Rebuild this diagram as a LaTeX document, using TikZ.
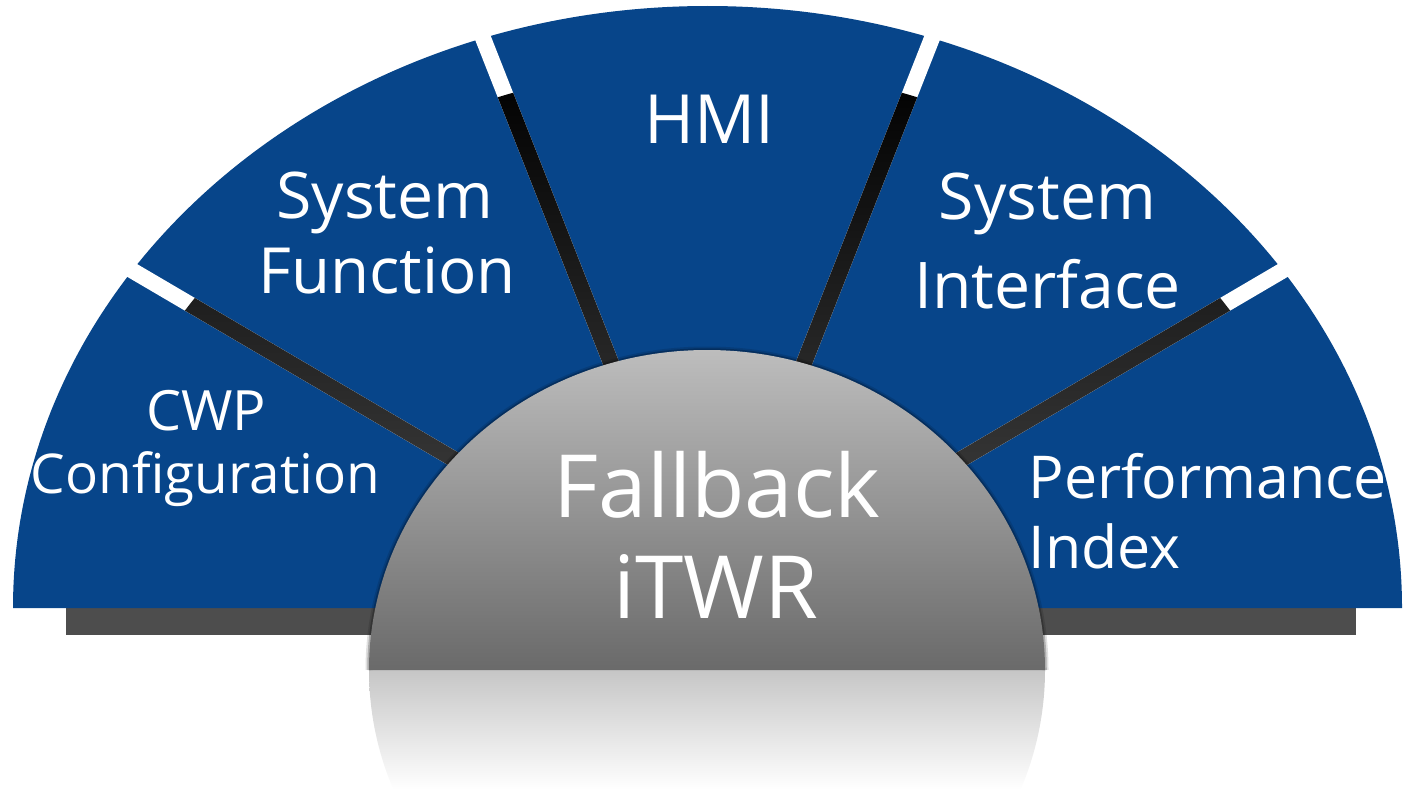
\documentclass[tikz,border=0pt]{standalone}
\usepackage{fontspec}
\setmainfont{Open Sans}
\usetikzlibrary{calc}
\definecolor{fanblue}{HTML}{07458A}
\definecolor{basebar}{HTML}{4D4D4D}
\definecolor{gapdark}{HTML}{474747}
\definecolor{domeTop}{HTML}{BDBDBD}
\definecolor{domeBot}{HTML}{6A6A6A}
\definecolor{reflTop}{HTML}{C6C6C6}
\begin{document}
\begin{tikzpicture}[x=0.01cm,y=0.01cm,
  lbl/.style={text=white, inner sep=0pt, anchor=base},
  lblw/.style={text=white, inner sep=0pt, anchor=base west}]
\useasboundingbox (0,0) rectangle (1409,790);
\coordinate (c) at (707.5,182);
% base bar
\fill[basebar] (66,155) rectangle (1356,182);
% fan
\fill[fanblue] (13,182) arc[start angle=180,end angle=0,x radius=694.5,y radius=602] -- cycle;
% gaps between the segments
\fill[white] \foreach \a in {30.4,68.5,111.5,149.6}{
  ($(c)+(\a:250)+(\a+90:8)$) -- ($(c)+(\a:720)+(\a+90:8)$) --
  ($(c)+(\a:720)+(\a-90:8)$) -- ($(c)+(\a:250)+(\a-90:8)$) -- cycle};
% dark inner part of the gaps
\begin{scope}
  \clip ($(c)+(-625,0)$) arc[start angle=180,end angle=0,x radius=625,y radius=542] -- cycle;
  \clip \foreach \a in {30.4,68.5,111.5,149.6}{
  ($(c)+(\a:250)+(\a+90:8)$) -- ($(c)+(\a:720)+(\a+90:8)$) --
  ($(c)+(\a:720)+(\a-90:8)$) -- ($(c)+(\a:250)+(\a-90:8)$) -- cycle};
  \shade[top color=black,bottom color=gapdark] (0,182) rectangle (1409,724);
\end{scope}
% reflection
\begin{scope}
  \clip (369,120) arc[start angle=180,end angle=360,x radius=338,y radius=320] -- cycle;
  \shade[top color=reflTop,middle color=gray!18,bottom color=white] (369,0) rectangle (1045,120);
\end{scope}
% dome
\draw[black,opacity=0.12,line width=0.07cm] (369,120) arc[start angle=180,end angle=0,x radius=338,y radius=320];
\draw[black,opacity=0.22,line width=0.035cm] (369,120) arc[start angle=180,end angle=0,x radius=338,y radius=320];
\shade[top color=domeTop,bottom color=domeBot] (369,120) arc[start angle=180,end angle=0,x radius=338,y radius=320] -- cycle;
% labels
\node[lbl,font=\fontsize{15.8}{18}\selectfont] (cwpA) at (206,360) {CWP};
\node[lbl,font=\fontsize{15.6}{18}\selectfont] (cwpB) at (205.5,297) {Configuration};
\node[lbl,font=\fontsize{18.3}{21}\selectfont] (sfA) at (385,572) {System};
\node[lbl,font=\fontsize{18.1}{21}\selectfont] (sfB) at (387,497) {Function};
\node[lbl,font=\fontsize{19.3}{22}\selectfont] (hmi) at (709.5,647) {HMI};
\node[lbl,font=\fontsize{18.3}{21}\selectfont] (siA) at (1047.5,571) {System};
\node[lbl,font=\fontsize{18.3}{21}\selectfont] (siB) at (1047.5,482) {Interface};
\node[lblw,font=\fontsize{16.8}{19}\selectfont] (piA) at (1028,292) {Performance};
\node[lblw,font=\fontsize{16.8}{19}\selectfont] (piB) at (1028,222) {Index};
\node[lbl,font=\fontsize{24.8}{28}\selectfont] (fbA) at (717,273) {Fallback};
\node[lbl,font=\fontsize{24.8}{28}\selectfont] (fbB) at (716,172) {iTWR};
\end{tikzpicture}
\end{document}
